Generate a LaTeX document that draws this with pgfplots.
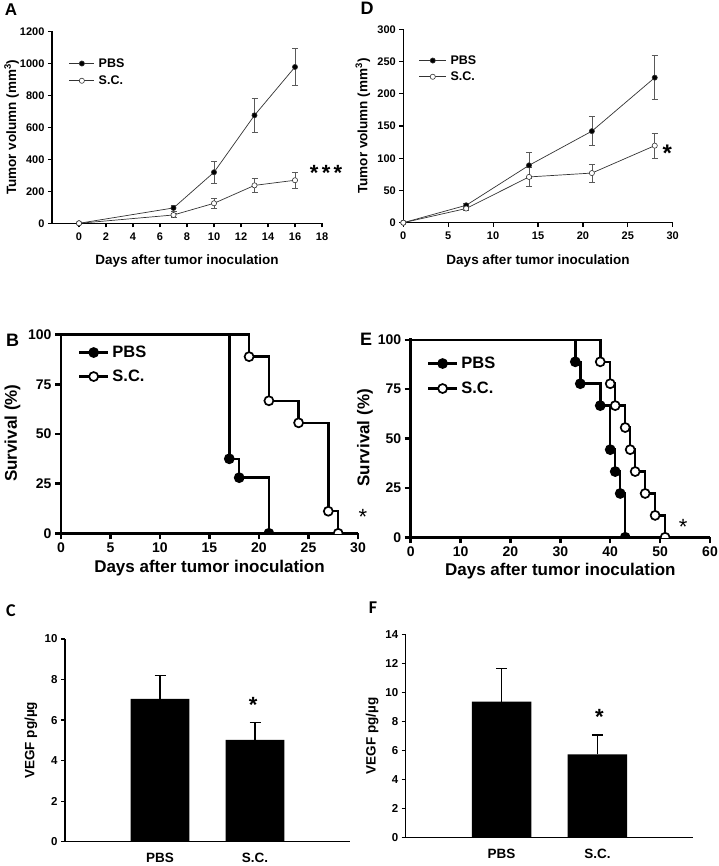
\documentclass[border=0pt]{standalone}
\usepackage{fontspec}
\setmainfont{Liberation Sans}
\newfontfamily\carlito{Carlito}
\usepackage{pgfplots}
\pgfplotsset{compat=1.18}

\newcommand\fs[2]{\fontsize{#1}{#2}\selectfont\bfseries}

\pgfplotsset{
  panel/.style={
    scale only axis, anchor=south west,
    axis lines=left, axis line style={-, line width=1.2pt},
    tick align=outside, major tick length=4pt,
    tick style={line width=1.2pt, black},
    /pgf/number format/assume math mode=true,
    /pgf/number format/1000 sep={},
    scaled ticks=false, clip=false,
    legend cell align=left,
    legend style={draw=none, fill=none, inner sep=0pt, outer sep=0pt,
      anchor=north west, nodes={inner sep=1pt}},
  },
  legimg/.style={legend image code/.code={%
    \draw[##1, mark repeat=2, mark phase=2] plot coordinates {(0pt,0pt) (#1/2,0pt) (#1,0pt)};}},
  growth/.style={panel,
    ticklabel style={font=\fs{11}{13}},
    xticklabel style={yshift=-2pt},
    label style={font=\fs{13.5}{16}},
    legend style={font=\fs{12.5}{15}, column sep=3pt},
  },
  gline/.style={black!80, line width=0.7pt, mark=*, mark size=2.6pt,
    mark options={solid, fill=#1, draw=black!80, line width=0.6pt},
    error bars/.cd, y dir=both, y explicit,
    error bar style={black!65, line width=0.6pt},
    error mark options={rotate=90, mark size=3pt, black!65, line width=0.6pt}},
  surv/.style={panel,
    axis line style={line width=2.5pt}, tick style={line width=2.5pt},
    major tick length=6pt,
    clip=true, clip mode=individual, clip marker paths=true,
    ticklabel style={font=\fs{14}{16}},
    label style={font=\fs{17}{20}},
    legend style={font=\fs{16.5}{19}, column sep=2pt},
    legimg=29pt,
  },
  sline/.style={const plot mark left, black, line width=2.5pt, mark=*, mark phase=2,
    mark size=4.5pt, mark options={solid, fill=#1, draw=black, line width=1.7pt}},
  vegf/.style={panel,
    xmin=0, xmax=3, ymin=0, xtick={1,2}, xticklabels={PBS,S.C.},
    x tick style={draw=none},
    ticklabel style={font=\fs{11.5}{13}},
    xticklabel style={font=\fs{13.5}{16}, yshift=-4pt},
    label style={font=\fs{13.5}{16}},
    ylabel={VEGF pg/µg},
  },
  vbar/.style={ybar, bar width=0.62, fill=black, draw=none,
    error bars/.cd, y dir=plus, y explicit,
    error bar style={black, line width=1.1pt},
    error mark options={rotate=90, mark size=5.5pt, black, line width=1.1pt}},
}

\begin{document}
\begin{tikzpicture}
\path[use as bounding box] (0pt,0pt) rectangle (718pt,-866pt);

% ---------- A ----------
\begin{axis}[growth, legimg=25pt,
  at={(52pt,-223.3pt)}, width=270pt, height=192pt,
  xmin=-2, xmax=18, ymin=0, ymax=1200,
  xtick={0,2,...,18}, ytick={0,200,...,1200},
  xlabel={Days after tumor inoculation},
  ylabel={Tumor volumn (mm\textsuperscript{3})},
  xlabel style={at={(axis description cs:0.5,-0.196)}, anchor=center},
  ylabel style={at={(axis description cs:-0.15,0.5)}, anchor=center},
  legend style={at={(axis description cs:0.063,0.864)}, row sep=5pt}]
\addplot[gline=black] coordinates {
  (0,0) +- (0,0) (7,96) +- (0,18) (10,319) +- (0,66) (13,675) +- (0,108) (16,977) +- (0,116)};
\addlegendentry{PBS}
\addplot[gline=white] coordinates {
  (0,0) +- (0,0) (7,52) +- (0,12) (10,125) +- (0,32) (13,237) +- (0,46) (16,269) +- (0,52)};
\addlegendentry{S.C.}
\node[font=\fs{22}{22}] at (axis cs:18.3,315) {*\hspace{3.4pt}*\hspace{3.4pt}*};
\end{axis}

% ---------- D ----------
\begin{axis}[growth, legimg=27pt,
  at={(403.3pt,-222.7pt)}, width=269.4pt, height=193.4pt,
  xmin=0, xmax=30, ymin=0, ymax=300,
  xtick={0,5,...,30}, ytick={0,50,...,300},
  xlabel={Days after tumor inoculation},
  ylabel={Tumor volumn (mm\textsuperscript{3})},
  xlabel style={at={(axis description cs:0.5,-0.198)}, anchor=center},
  ylabel style={at={(axis description cs:-0.15,0.5)}, anchor=center},
  legend style={at={(axis description cs:0.058,0.87)}, row sep=4pt}]
\addplot[gline=black] coordinates {
  (0,0) +- (0,0) (7,27) +- (0,3) (14,89) +- (0,20) (21,142) +- (0,22.5) (28,225) +- (0,34)};
\addlegendentry{PBS}
\addplot[gline=white] coordinates {
  (0,0) +- (0,0) (7,22) +- (0,3) (14,71) +- (0,15) (21,77) +- (0,14) (28,119.5) +- (0,19)};
\addlegendentry{S.C.}
\node[font=\fs{24}{24}] at (axis cs:29.4,107.6) {*};
\end{axis}

% ---------- B ----------
\begin{axis}[surv,
  at={(61pt,-533.3pt)}, width=297pt, height=200.3pt,
  xmin=0, xmax=30, ymin=0, ymax=100.8,
  xtick={0,5,...,30}, ytick={0,25,...,100},
  xlabel={Days after tumor inoculation}, ylabel={Survival (\%)},
  xlabel style={at={(axis description cs:0.5,-0.173)}, anchor=center},
  ylabel style={at={(axis description cs:-0.163,0.5)}, anchor=center},
  legend style={at={(axis description cs:0.057,0.94)}, row sep=9pt}]
\addplot[sline=black] coordinates {(0,100) (17,37.5) (18,28) (21,0)};
\addlegendentry{PBS}
\addplot[sline=white] coordinates {(0,100) (19,88.9) (21,66.7) (24,55.6) (27,11.1) (28,0)};
\addlegendentry{S.C.}
\node[font=\fontsize{22}{22}\selectfont] at (axis cs:30.5,8.2) {*};
\end{axis}

% ---------- E ----------
\begin{axis}[surv,
  at={(410.7pt,-537.3pt)}, width=299.3pt, height=199pt,
  xmin=0, xmax=60, ymin=0, ymax=100.8,
  xtick={0,10,...,60}, ytick={0,25,...,100},
  xlabel={Days after tumor inoculation}, ylabel={Survival (\%)},
  xlabel style={at={(axis description cs:0.5,-0.17)}, anchor=center},
  ylabel style={at={(axis description cs:-0.153,0.5)}, anchor=center},
  legend style={at={(axis description cs:0.054,0.911)}, row sep=10pt}]
\addplot[sline=black] coordinates {(0,100) (33,88.9) (34,77.8) (38,66.7) (40,44.4) (41,33.3) (42,22.2) (43,0)};
\addlegendentry{PBS}
\addplot[sline=white] coordinates {(0,100) (38,88.9) (40,77.8) (41,66.7) (43,55.6) (44,44.4) (45,33.3) (47,22.2) (49,11.1) (51,0)};
\addlegendentry{S.C.}
\node[font=\fontsize{22}{22}\selectfont] at (axis cs:54.6,5.3) {*};
\end{axis}

% ---------- C ----------
\begin{axis}[vegf,
  at={(65pt,-841.7pt)}, width=285pt, height=202.7pt,
  ymax=10, ytick={0,2,...,10},
  ylabel style={at={(axis description cs:-0.12,0.5)}, anchor=center}]
\addplot[vbar] coordinates {(1,7.05) +- (0,1.17) (2,5.02) +- (0,0.88)};
\node[font=\fs{22}{22}] at (axis cs:1.98,6.75) {*};
\end{axis}

% ---------- F ----------
\begin{axis}[vegf,
  at={(405.7pt,-837.7pt)}, width=287.6pt, height=203.4pt,
  ymax=14, ytick={0,2,...,14},
  ylabel style={at={(axis description cs:-0.117,0.5)}, anchor=center}]
\addplot[vbar] coordinates {(1,9.36) +- (0,2.3) (2,5.74) +- (0,1.33)};
\node[font=\fs{22}{22}] at (axis cs:2.02,8.32) {*};
\end{axis}

% panel letters
\node[font=\fs{17}{17}] at (11pt,-10pt) {A};
\node[font=\fs{18}{18}] at (367pt,-8pt) {D};
\node[font=\fs{18}{18}] at (12.5pt,-340pt) {B};
\node[font=\fs{18}{18}] at (366pt,-339pt) {E};
\node[font=\carlito\fs{18}{18}] at (11pt,-611pt) {C};
\node[font=\carlito\fs{18}{18}] at (373pt,-608pt) {F};
\end{tikzpicture}
\end{document}
